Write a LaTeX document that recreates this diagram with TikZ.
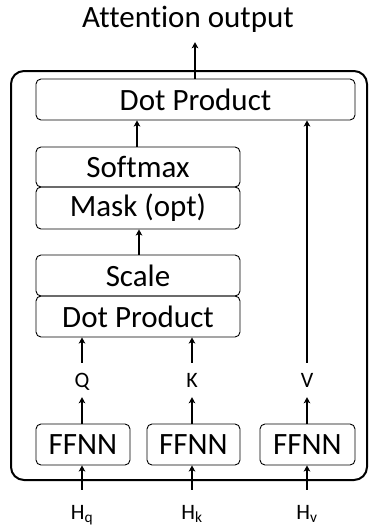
\documentclass[tikz,border=0pt]{standalone}
\usepackage{fontspec}
\setmainfont[Ligatures=NoCommon]{Carlito}
\usetikzlibrary{arrows.meta}
\begin{document}
\begin{tikzpicture}[x=1pt,y=-1pt,
  blk/.style={draw,rounded corners=5pt,line width=0.9pt,inner sep=0pt,font=\fontsize{31}{34}\selectfont},
  lbl/.style={inner sep=0pt,font=\fontsize{22}{24}\selectfont,text height=14pt,text depth=0pt},
  arr/.style={line width=1.2pt,-{Stealth[length=6pt,width=6.5pt,inset=1.5pt]}}]
\useasboundingbox (0,0) rectangle (370,527);
\node[draw,rounded corners=13pt,line width=2pt,minimum width=356pt,minimum height=409pt,inner sep=0pt] (outer) at (189,275.5) {};
\node[inner sep=0pt,font=\fontsize{31}{34}\selectfont,text height=20pt,text depth=0pt,minimum height=48pt] (title) at (188,18) {Attention output};
\node[blk,minimum width=319pt,minimum height=41pt] (top) at (195.5,99.5) {Dot Product};
\node[blk,minimum width=204pt,minimum height=40pt] (soft) at (138,167) {Softmax};
\node[blk,minimum width=204pt,minimum height=42pt] (mask) at (138,208) {Mask (opt)};
\node[blk,minimum width=204pt,minimum height=41pt] (scale) at (138,275.5) {Scale};
\node[blk,minimum width=204pt,minimum height=41pt] (dot) at (138,316.5) {Dot Product};
\node[blk,minimum width=94pt,minimum height=41pt] (fq) at (83,444.5) {FFNN};
\node[blk,minimum width=93pt,minimum height=41pt] (fk) at (193.5,444.5) {FFNN};
\node[blk,minimum width=95pt,minimum height=41pt] (fv) at (307.5,444.5) {FFNN};
\node[lbl,minimum height=34pt] (q) at (82,380) {Q};
\node[lbl,minimum height=34pt] (k) at (192,380) {K};
\node[lbl,minimum height=34pt] (v) at (307,380) {V};
\node[lbl,minimum height=44pt] (hq) at (82,512) {H\textsubscript{q}};
\node[lbl,minimum height=44pt] (hk) at (192,512) {H\textsubscript{k}};
\node[lbl,minimum height=44pt] (hv) at (307,512) {H\textsubscript{v}};
\draw[arr] (top.north -| 195,0) -- (195,0 |- title.south);
\draw[arr] (soft.north -| 137,0) -- (137,0 |- top.south);
\draw[arr] (scale.north -| 139,0) -- (139,0 |- mask.south);
\draw[arr] (q.north) -- (q.north |- dot.south);
\draw[arr] (k.north) -- (k.north |- dot.south);
\draw[arr] (v.north) -- (v.north |- top.south);
\draw[arr] (fq.north -| q.north) -- (q.south);
\draw[arr] (fk.north -| k.north) -- (k.south);
\draw[arr] (fv.north -| v.north) -- (v.south);
\draw[arr] (hq.north) -- (hq.north |- fq.south);
\draw[arr] (hk.north) -- (hk.north |- fk.south);
\draw[arr] (hv.north) -- (hv.north |- fv.south);
\end{tikzpicture}
\end{document}
